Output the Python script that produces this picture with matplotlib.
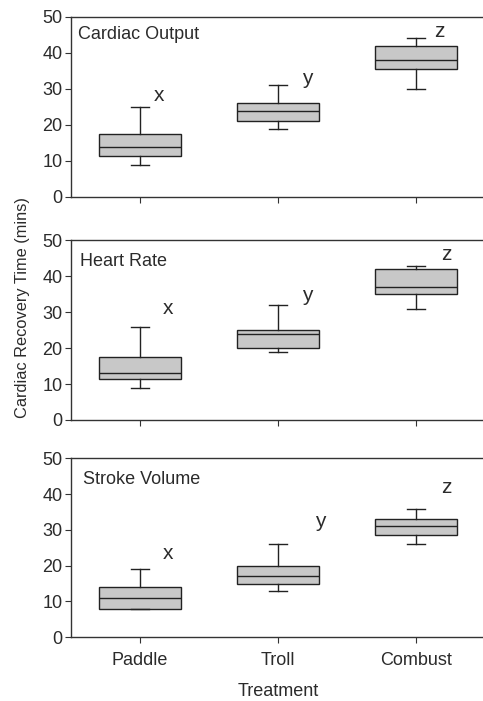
import matplotlib
matplotlib.use("Agg")
import matplotlib.pyplot as plt

plt.rcParams['font.family'] = ['Liberation Sans', 'DejaVu Sans']

# ==========================================
# DATA
# ==========================================
TREATMENTS = ["Paddle", "Troll", "Combust"]
PANELS = ["Cardiac Output", "Heart Rate", "Stroke Volume"]

# per panel: whisker low, Q1, median, Q3, whisker high for each treatment
CO_LOW = [9, 19, 30]
CO_Q1 = [11.5, 21, 35.5]
CO_MED = [14, 24, 38]
CO_Q3 = [17.5, 26, 42]
CO_HIGH = [25, 31, 44]

HR_LOW = [9, 19, 31]
HR_Q1 = [11.5, 20, 35]
HR_MED = [13, 24, 37]
HR_Q3 = [17.5, 25, 42]
HR_HIGH = [26, 32, 43]

SV_LOW = [8, 13, 26]
SV_Q1 = [8, 15, 28.5]
SV_MED = [11, 17, 31]
SV_Q3 = [14, 20, 33]
SV_HIGH = [19, 26, 36]

# significance letters: x offset from the box centre and the height they sit at
LETTERS = ["x", "y", "z"]
CO_LETTER_X = [0.14, 0.21, 0.17]
CO_LETTER_Y = [28.3, 33.0, 45.9]
HR_LETTER_X = [0.2, 0.21, 0.22]
HR_LETTER_Y = [31.1, 34.6, 46.0]
SV_LETTER_X = [0.2, 0.31, 0.22]
SV_LETTER_Y = [23.5, 32.3, 42.0]

PANEL_DATA = [
    (CO_LOW, CO_Q1, CO_MED, CO_Q3, CO_HIGH, CO_LETTER_X, CO_LETTER_Y),
    (HR_LOW, HR_Q1, HR_MED, HR_Q3, HR_HIGH, HR_LETTER_X, HR_LETTER_Y),
    (SV_LOW, SV_Q1, SV_MED, SV_Q3, SV_HIGH, SV_LETTER_X, SV_LETTER_Y),
]
LABEL_X = [0.55, 0.565, 0.59]

TEXT_COLOR = "#2b2b2b"
BOX_FILL = "#c8c8c8"
LINE_COLOR = "#222222"

fig = plt.figure(figsize=(4.83, 7.01), dpi=100)

# axes rectangles [left, bottom, width, height] in figure fractions
RECTS = [
    [0.147, 0.719, 0.857, 0.257],
    [0.147, 0.401, 0.857, 0.256],
    [0.147, 0.091, 0.857, 0.255],
]

for i, (name, rect, data) in enumerate(zip(PANELS, RECTS, PANEL_DATA)):
    lo, q1, med, q3, hi, lx, ly = data
    ax = fig.add_axes(rect)

    stats = []
    for j in range(len(TREATMENTS)):
        stats.append({"whislo": lo[j], "q1": q1[j], "med": med[j],
                      "q3": q3[j], "whishi": hi[j], "fliers": []})

    ax.bxp(stats, positions=[1, 2, 3], widths=0.6, capwidths=0.13,
           patch_artist=True, showfliers=False,
           boxprops=dict(facecolor=BOX_FILL, edgecolor=LINE_COLOR, linewidth=1.0),
           medianprops=dict(color=LINE_COLOR, linewidth=1.0),
           whiskerprops=dict(color=LINE_COLOR, linewidth=1.0),
           capprops=dict(color=LINE_COLOR, linewidth=1.0))

    ax.set_xlim(0.5, 3.5)
    ax.set_ylim(0, 50)
    ax.set_yticks([0, 10, 20, 30, 40, 50])
    ax.set_xticks([1, 2, 3])

    ax.spines["right"].set_visible(False)
    for s in ["left", "bottom", "top"]:
        ax.spines[s].set_color("#333333")
        ax.spines[s].set_linewidth(1.0)

    ax.tick_params(axis="both", direction="out", length=4, width=0.8,
                   color="#333333", labelsize=13, labelcolor=TEXT_COLOR, pad=2)

    if i == 2:
        ax.set_xticklabels(TREATMENTS)
        ax.tick_params(axis="x", pad=7)
        ax.set_xlabel("Treatment", fontsize=13, color=TEXT_COLOR, labelpad=10)
    else:
        ax.set_xticklabels([])

    ax.text(LABEL_X[i], 45.0 if i == 0 else 44.2, name, fontsize=13,
            color=TEXT_COLOR, va="center", ha="left")

    for j, letter in enumerate(LETTERS):
        ax.text(j + 1 + lx[j], ly[j], letter, fontsize=15, color=TEXT_COLOR,
                ha="center", va="center")

fig.text(0.046, 0.561, "Cardiac Recovery Time (mins)", rotation=90,
         fontsize=11.8, color=TEXT_COLOR, ha="center", va="center")

fig.savefig("out.png", dpi=100)
